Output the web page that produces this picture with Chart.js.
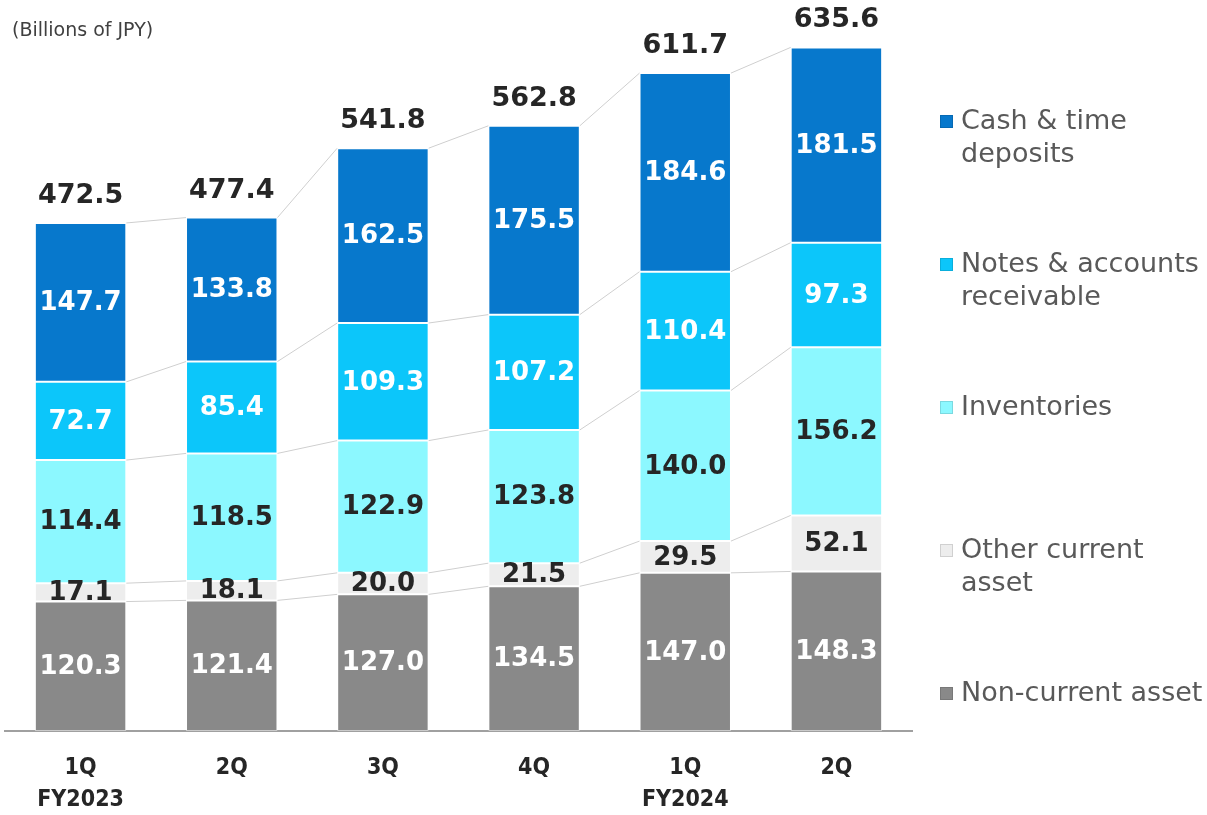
<!DOCTYPE html>
<html>
<head>
<meta charset="utf-8">
<script src="https://cdn.jsdelivr.net/npm/chart.js@4.4.1/dist/chart.umd.min.js"></script>
<style>
  html, body { margin: 0; padding: 0; background: #fff; }
  #wrap { position: relative; width: 1207px; height: 815px; }
</style>
</head>
<body>
<div id="wrap"><canvas id="chart"></canvas></div>
<script>
// categories (quarter + fiscal year)
const quarters = [['1Q', 'FY2023'], '2Q', '3Q', '4Q', ['1Q', 'FY2024'], '2Q'];

// series, bottom to top of the stack
const nonCurrent   = [120.3, 121.4, 127.0, 134.5, 147.0, 148.3];
const otherCurrent = [17.1, 18.1, 20.0, 21.5, 29.5, 52.1];
const inventories  = [114.4, 118.5, 122.9, 123.8, 140.0, 156.2];
const receivables  = [72.7, 85.4, 109.3, 107.2, 110.4, 97.3];
const cashDeposits = [147.7, 133.8, 162.5, 175.5, 184.6, 181.5];

// totals printed above the bars
const totals = [472.5, 477.4, 541.8, 562.8, 611.7, 635.6];

const unitLabel = '(Billions of JPY)';

const series = [
    { name: ['Non-current asset'],             data: nonCurrent,   color: '#898989', text: '#ffffff' },
    { name: ['Other current', 'asset'],        data: otherCurrent, color: '#ededed', text: '#262626' },
    { name: ['Inventories'],                   data: inventories,  color: '#8cf8ff', text: '#262626' },
    { name: ['Notes & accounts', 'receivable'],data: receivables,  color: '#0cc6fa', text: '#ffffff' },
    { name: ['Cash & time', 'deposits'],       data: cashDeposits, color: '#0778cc', text: '#ffffff' }
];

const labelFont = "bold 26px 'DejaVu Sans', sans-serif";
const totalFont = "bold 27px 'DejaVu Sans', sans-serif";

// dünne graue Linien zwischen den Segmentoberkanten benachbarter Balken
const connectorPlugin = {
    id: 'connectors',
    beforeDatasetsDraw(chart) {
        const ctx = chart.ctx;
        ctx.save();
        ctx.strokeStyle = '#cfcfcf';
        ctx.lineWidth = 1;
        chart.data.datasets.forEach((ds, d) => {
            const bars = chart.getDatasetMeta(d).data;
            for (let i = 0; i < bars.length - 1; i++) {
                const a = bars[i], b = bars[i + 1];
                ctx.beginPath();
                ctx.moveTo(a.x + a.width / 2, a.y);
                ctx.lineTo(b.x - b.width / 2, b.y);
                ctx.stroke();
            }
        });
        ctx.restore();
    }
};

// Werte in den Segmenten und Summen über den Balken
const valueLabelPlugin = {
    id: 'valueLabels',
    afterDatasetsDraw(chart) {
        const ctx = chart.ctx;
        ctx.save();
        ctx.textAlign = 'center';
        ctx.textBaseline = 'middle';
        ctx.font = labelFont;
        chart.data.datasets.forEach((ds, d) => {
            const bars = chart.getDatasetMeta(d).data;
            bars.forEach((bar, i) => {
                ctx.fillStyle = series[d].text;
                ctx.fillText(ds.data[i].toFixed(1), bar.x, (bar.y + bar.base) / 2 + 1);
            });
        });
        const topBars = chart.getDatasetMeta(chart.data.datasets.length - 1).data;
        ctx.font = totalFont;
        ctx.fillStyle = '#262626';
        topBars.forEach((bar, i) => {
            ctx.fillText(totals[i].toFixed(1), bar.x, bar.y - 27);
        });
        ctx.restore();
    }
};

// Legende rechts und Einheit oben links
const sideLegendPlugin = {
    id: 'sideLegend',
    afterDraw(chart) {
        const ctx = chart.ctx;
        ctx.save();
        ctx.textBaseline = 'middle';
        ctx.textAlign = 'left';
        ctx.fillStyle = '#404040';
        ctx.font = "19px 'DejaVu Sans', sans-serif";
        ctx.fillText(unitLabel, 12, 31);

        ctx.font = "27px 'DejaVu Sans', sans-serif";
        const order = series.slice().reverse();
        order.forEach((s, k) => {
            const y = 122 + k * 143;
            ctx.fillStyle = s.color;
            ctx.fillRect(940, y - 7, 13, 13);
            ctx.strokeStyle = 'rgba(0,0,0,0.12)';
            ctx.lineWidth = 1;
            ctx.strokeRect(940.5, y - 6.5, 12, 12);
            ctx.fillStyle = '#595959';
            s.name.forEach((line, j) => ctx.fillText(line, 961, y + j * 33));
        });
        ctx.restore();
    }
};

new Chart(document.getElementById('chart'), {
    type: 'bar',
    data: {
        labels: quarters,
        datasets: series.map(s => ({
            label: s.name.join(' '),
            data: s.data,
            backgroundColor: s.color,
            borderColor: 'rgba(255,255,255,0.45)',
            borderWidth: 1,
            borderSkipped: false,
            barPercentage: 0.605,
            categoryPercentage: 1
        }))
    },
    options: {
        responsive: true,
        maintainAspectRatio: false,
        animation: false,
        layout: { padding: { top: 8, left: 5, right: 295, bottom: 0 } },
        plugins: {
            legend: { display: false },
            tooltip: { enabled: false }
        },
        scales: {
            x: {
                stacked: true,
                grid: { display: false, drawTicks: false },
                border: { display: true, color: '#a0a0a0', width: 2 },
                ticks: {
                    color: '#262626',
                    padding: 21,
                    maxRotation: 0,
                    autoSkip: false,
                    font: {
                        family: "'DejaVu Sans Condensed', 'DejaVu Sans', sans-serif",
                        size: 23,
                        weight: 'bold',
                        lineHeight: '32px'
                    }
                },
                afterFit(scale) { scale.height = 84; }
            },
            y: {
                stacked: true,
                display: false,
                min: 0,
                max: 672
            }
        }
    },
    plugins: [connectorPlugin, valueLabelPlugin, sideLegendPlugin]
});
</script>
</body>
</html>
